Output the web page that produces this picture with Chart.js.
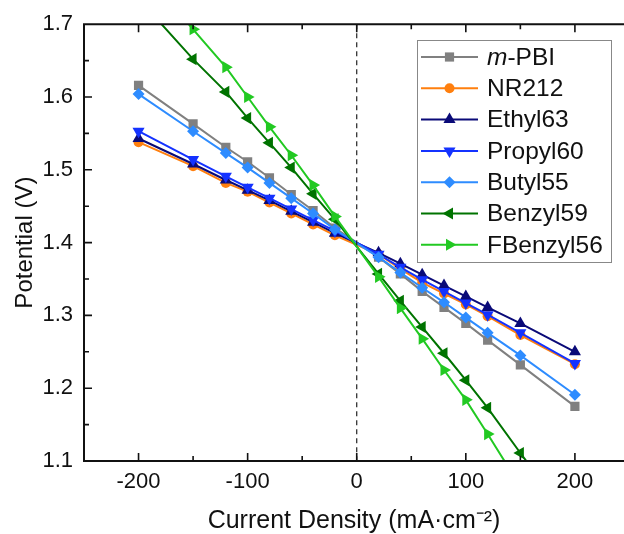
<!DOCTYPE html>
<html>
<head>
<meta charset="utf-8">
<script src="https://cdn.jsdelivr.net/npm/chart.js@4.4.0/dist/chart.umd.min.js"></script>
<style>
  html, body { margin: 0; padding: 0; background: #fff; overflow: hidden; }
  #wrap { width: 624px; height: 534px; }
</style>
</head>
<body>
<div id="wrap"><canvas id="chart" width="624" height="534"></canvas></div>
<script>
// current density (mA/cm2)
const currentDensity = [-200, -150, -120, -100, -80, -60, -40, -20, 20, 40, 60, 80, 100, 120, 150, 200];

// potential (V)
const mPBI     = [1.616, 1.563, 1.531, 1.511, 1.489, 1.466, 1.444, 1.420, 1.380, 1.357, 1.333, 1.311, 1.289, 1.266, 1.232, 1.175];
const nr212    = [1.538, 1.505, 1.482, 1.470, 1.455, 1.440, 1.425, 1.410, 1.384, 1.364, 1.345, 1.330, 1.315, 1.299, 1.273, 1.233];
const ethyl63  = [1.543, 1.508, 1.486, 1.472, 1.458, 1.443, 1.428, 1.413, 1.386, 1.371, 1.356, 1.341, 1.326, 1.311, 1.289, 1.250];
const propyl60 = [1.553, 1.514, 1.491, 1.476, 1.461, 1.446, 1.431, 1.416, 1.384, 1.366, 1.349, 1.333, 1.317, 1.301, 1.276, 1.234];
const butyl55  = [1.604, 1.553, 1.523, 1.503, 1.482, 1.461, 1.440, 1.418, 1.380, 1.359, 1.338, 1.318, 1.297, 1.276, 1.245, 1.191];
const benzyl59 = [1.735, 1.652, 1.607, 1.571, 1.537, 1.503, 1.467, 1.432, 1.357, 1.320, 1.284, 1.248, 1.211, 1.173, 1.111, 1.010];
const fbenzyl56 = [1.780, 1.693, 1.641, 1.600, 1.559, 1.520, 1.479, 1.436, 1.353, 1.310, 1.268, 1.225, 1.184, 1.137, 1.065, 0.950];

const seriesNames = ["m-PBI", "NR212", "Ethyl63", "Propyl60", "Butyl55", "Benzyl59", "FBenzyl56"];
const seriesData = [mPBI, nr212, ethyl63, propyl60, butyl55, benzyl59, fbenzyl56];
const colors = ["#808080", "#ff7f0e", "#0a0a78", "#1432ff", "#2e8cff", "#007300", "#22c922"];
const markers = [
    { style: "rect", radius: 6.5, rotation: 0 },
    { style: "circle", radius: 5, rotation: 0 },
    { style: "triangle", radius: 7, rotation: 0 },
    { style: "triangle", radius: 7, rotation: 180 },
    { style: "rectRot", radius: 6, rotation: 0 },
    { style: "triangle", radius: 7, rotation: 270 },
    { style: "triangle", radius: 7, rotation: 90 },
];

const FONT = "'Liberation Sans', Arial, sans-serif";

function drawMarker(ctx, m, x, y, color) {
    ctx.save();
    ctx.translate(x, y);
    ctx.rotate(m.rotation * Math.PI / 180);
    ctx.fillStyle = color;
    ctx.beginPath();
    const r = m.radius;
    if (m.style === "rect") {
        const s = r * Math.SQRT1_2;
        ctx.rect(-s, -s, 2 * s, 2 * s);
    } else if (m.style === "circle") {
        ctx.arc(0, 0, r, 0, Math.PI * 2);
    } else if (m.style === "rectRot") {
        ctx.moveTo(0, -r); ctx.lineTo(r, 0); ctx.lineTo(0, r); ctx.lineTo(-r, 0);
        ctx.closePath();
    } else {
        ctx.moveTo(0, -r);
        ctx.lineTo(r * Math.sin(Math.PI / 3), r * 0.5);
        ctx.lineTo(-r * Math.sin(Math.PI / 3), r * 0.5);
        ctx.closePath();
    }
    ctx.fill();
    ctx.restore();
}

const framePlugin = {
    id: "frame",
    afterDatasetsDraw(chart) {
        const ctx = chart.ctx;
        const a = chart.chartArea;
        const xs = chart.scales.x;
        const ys = chart.scales.y;
        ctx.save();

        // dashed line at zero current
        const x0 = xs.getPixelForValue(0);
        ctx.strokeStyle = "#222";
        ctx.lineWidth = 1.2;
        ctx.setLineDash([5, 4]);
        ctx.beginPath();
        ctx.moveTo(x0, a.top);
        ctx.lineTo(x0, a.bottom);
        ctx.stroke();
        ctx.setLineDash([]);

        // axes
        ctx.strokeStyle = "#111";
        ctx.lineWidth = 2;
        ctx.beginPath();
        ctx.moveTo(chart.width, a.top);
        ctx.lineTo(a.left, a.top);
        ctx.lineTo(a.left, a.bottom);
        ctx.lineTo(chart.width, a.bottom);
        ctx.stroke();

        // inward ticks
        ctx.lineWidth = 1.6;
        ctx.beginPath();
        for (let v = -250; v <= 250; v += 50) {
            const px = xs.getPixelForValue(v);
            if (px <= a.left + 1 || px > chart.width) continue;
            const len = v % 100 === 0 ? 8 : 5;
            ctx.moveTo(px, a.bottom);
            ctx.lineTo(px, a.bottom - len);
            ctx.moveTo(px, a.top);
            ctx.lineTo(px, a.top + len);
        }
        for (let i = 0; i <= 12; i++) {
            const v = 1.1 + i * 0.05;
            const py = ys.getPixelForValue(v);
            if (py >= a.bottom - 1 || py <= a.top + 1) continue;
            const len = i % 2 === 0 ? 8 : 5;
            ctx.moveTo(a.left, py);
            ctx.lineTo(a.left + len, py);
        }
        ctx.stroke();

        // legend
        const bx = 417, by = 40, bw = 194, bh = 222;
        ctx.fillStyle = "#fff";
        ctx.fillRect(bx, by, bw, bh);
        ctx.strokeStyle = "#888";
        ctx.lineWidth = 1;
        ctx.strokeRect(bx + 0.5, by + 0.5, bw, bh);
        const rowH = 31.3;
        ctx.textBaseline = "middle";
        ctx.textAlign = "left";
        seriesNames.forEach((name, i) => {
            const cy = 57 + i * rowH;
            ctx.strokeStyle = colors[i];
            ctx.lineWidth = 2;
            ctx.beginPath();
            ctx.moveTo(421, cy);
            ctx.lineTo(478, cy);
            ctx.stroke();
            drawMarker(ctx, markers[i], 449.5, cy, colors[i]);
            ctx.fillStyle = "#111";
            if (i === 0) {
                ctx.font = "italic 24.5px " + FONT;
                ctx.fillText("m", 487, cy + 1);
                const w = ctx.measureText("m").width;
                ctx.font = "24.5px " + FONT;
                ctx.fillText("-PBI", 487 + w, cy + 1);
            } else {
                ctx.font = "24.5px " + FONT;
                ctx.fillText(name, 487, cy + 1);
            }
        });
        ctx.restore();
    },
};

const datasets = seriesNames.map((name, i) => ({
    label: name,
    data: currentDensity.map((x, j) => ({ x: x, y: seriesData[i][j] })),
    borderColor: colors[i],
    backgroundColor: colors[i],
    borderWidth: 2,
    pointStyle: markers[i].style,
    pointRadius: markers[i].radius,
    pointRotation: markers[i].rotation,
    pointBackgroundColor: colors[i],
    pointBorderColor: colors[i],
    pointBorderWidth: 0,
    tension: 0,
    fill: false,
    clip: 0,
    order: seriesNames.length - i,
}));

new Chart(document.getElementById("chart"), {
    type: "line",
    data: { datasets: datasets },
    options: {
        responsive: false,
        animation: false,
        layout: { autoPadding: false, padding: { top: 22, left: 0, right: 0, bottom: 0 } },
        plugins: {
            legend: { display: false },
            tooltip: { enabled: false },
        },
        scales: {
            x: {
                type: "linear",
                bounds: "data",
                min: -250,
                max: 245,
                grid: { display: false, drawTicks: false },
                border: { display: false },
                ticks: {
                    stepSize: 50,
                    includeBounds: false,
                    maxRotation: 0,
                    autoSkip: false,
                    padding: 8,
                    color: "#111",
                    font: { family: FONT, size: 22 },
                    callback: (v) => (v % 100 === 0 ? String(v) : ""),
                },
                title: {
                    display: true,
                    text: "Current Density (mA\u00b7cm\u207b\u00b2)",
                    color: "#111",
                    font: { family: FONT, size: 25 },
                    padding: { top: 0, bottom: -2 },
                },
                afterFit: (scale) => {
                    scale.height = 73;
                    scale.paddingLeft = 0;
                    scale.paddingRight = 0;
                },
            },
            y: {
                min: 1.1,
                max: 1.7,
                grid: { display: false, drawTicks: false },
                border: { display: false },
                ticks: {
                    stepSize: 0.1,
                    padding: 11,
                    color: "#111",
                    font: { family: FONT, size: 22 },
                    callback: (v) => v.toFixed(1),
                },
                title: {
                    display: true,
                    text: "Potential (V)",
                    color: "#111",
                    font: { family: FONT, size: 24 },
                    padding: { top: 11, bottom: 0 },
                },
                afterFit: (scale) => { scale.width = 84; },
            },
        },
    },
    plugins: [framePlugin],
});
</script>
</body>
</html>
